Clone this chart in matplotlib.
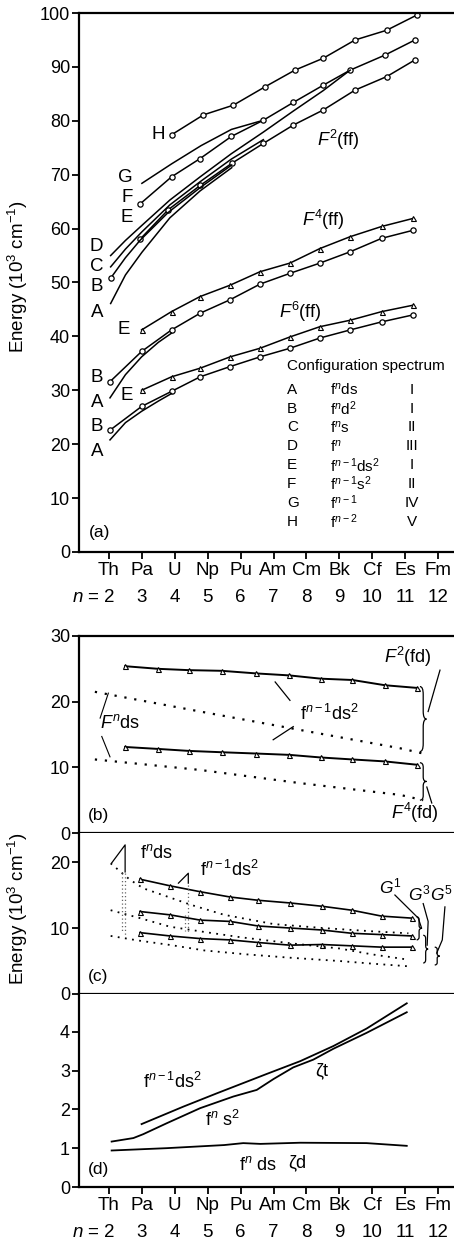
import numpy as np
import matplotlib
matplotlib.use('Agg')
import matplotlib.pyplot as plt
from matplotlib.path import Path
from matplotlib.patches import PathPatch

plt.rcParams['font.family'] = ['Liberation Sans', 'DejaVu Sans']
plt.rcParams['mathtext.fontset'] = 'custom'
plt.rcParams['mathtext.rm'] = 'Liberation Sans'
plt.rcParams['mathtext.it'] = 'Liberation Sans:italic'
plt.rcParams['mathtext.bf'] = 'Liberation Sans:bold'

# x axis: elements and n
elements = ['Th', 'Pa', 'U', 'Np', 'Pu', 'Am', 'Cm', 'Bk', 'Cf', 'Es', 'Fm']
n_vals = [2, 3, 4, 5, 6, 7, 8, 9, 10, 11, 12]

# ---- panel (a): F2(ff), F4(ff), F6(ff) ----
H_n = [3.9, 4.87, 5.78, 6.74, 7.65, 8.51, 9.48, 10.44, 11.35]
H_v = [77.4, 81.1, 82.9, 86.3, 89.4, 91.6, 95.0, 96.8, 99.6]
G_n = [3.0, 3.9, 4.8, 5.72, 6.69]
G_v = [68.4, 72.0, 75.4, 78.4, 80.1]
F_n = [2.95, 3.9, 4.77, 5.72, 6.69, 7.6, 8.51, 9.33, 10.39, 11.3]
F_v = [64.6, 69.6, 73.0, 77.1, 80.1, 83.4, 86.6, 89.4, 92.2, 95.0]
E_n = [2.94, 3.8, 4.77, 5.73, 6.69, 7.6, 8.51, 9.48, 10.44, 11.3]
E_v = [58.0, 63.5, 68.0, 72.1, 75.8, 79.2, 82.0, 85.7, 88.2, 91.3]
D_n = [2.05, 2.5, 3.0, 3.85, 4.77, 5.72, 6.69, 7.6, 8.51, 9.33]
D_v = [55.0, 57.8, 60.6, 65.3, 69.6, 73.9, 77.9, 81.8, 85.6, 89.4]
C_n = [2.05, 2.5, 3.0, 3.85, 4.77, 5.72, 6.69]
C_v = [52.9, 56.2, 59.4, 64.4, 68.7, 72.9, 76.5]
B_n = [2.05, 2.5, 2.94, 3.8, 4.77, 5.73]
B_v = [50.8, 54.6, 57.8, 63.0, 67.6, 71.8]
A_n = [2.05, 2.5, 3.0, 3.85, 4.77, 5.73]
A_v = [46.1, 51.4, 55.6, 62.0, 67.0, 71.3]

F4E_n = [2.99, 3.9, 4.77, 5.68, 6.59, 7.5, 8.41, 9.33, 10.29, 11.25]
F4E_v = [41.2, 44.6, 47.4, 49.5, 52.0, 53.6, 56.3, 58.5, 60.4, 61.9]
F4B_n = [2.03, 2.99, 3.9, 4.77, 5.68, 6.59, 7.5, 8.41, 9.33, 10.29, 11.25]
F4B_v = [31.6, 37.2, 41.2, 44.3, 46.8, 49.7, 51.7, 53.6, 55.7, 58.2, 59.7]
F4A_n = [2.03, 2.5, 2.99, 3.5, 3.9]
F4A_v = [28.6, 32.9, 36.2, 38.9, 40.6]

F6E_n = [2.99, 3.9, 4.77, 5.68, 6.59, 7.5, 8.41, 9.33, 10.29, 11.25]
F6E_v = [30.0, 32.5, 34.1, 36.2, 37.8, 39.9, 41.8, 43.0, 44.6, 45.8]
F6B_n = [2.03, 2.99, 3.9, 4.77, 5.68, 6.59, 7.5, 8.41, 9.33, 10.29, 11.25]
F6B_v = [22.6, 27.0, 29.8, 32.5, 34.4, 36.2, 37.8, 39.7, 41.2, 42.7, 44.0]
F6A_n = [2.03, 2.5, 2.99, 3.5, 3.9]
F6A_v = [20.8, 24.0, 26.1, 28.0, 29.4]

table_letters = ['A', 'B', 'C', 'D', 'E', 'F', 'G', 'H']
table_configs = ['f$^n$ds', 'f$^n$d$^2$', 'f$^n$s', 'f$^n$', 'f$^{n\u22121}$ds$^2$',
                 'f$^{n\u22121}$s$^2$', 'f$^{n\u22121}$', 'f$^{n\u22122}$']
table_spectra = ['I', 'I', 'II', 'III', 'I', 'II', 'IV', 'V']

# ---- panel (b): F2(fd), F4(fd) ----
b_n = [2.49, 3.5, 4.43, 5.42, 6.48, 7.48, 8.44, 9.40, 10.39, 11.35]
b_up = [25.4, 25.0, 24.8, 24.7, 24.3, 24.0, 23.5, 23.3, 22.5, 22.1]
b_lo = [13.1, 12.8, 12.5, 12.3, 12.1, 11.9, 11.5, 11.2, 10.9, 10.4]
bd_n = [1.57, 4.77, 7.8, 10.85, 11.55]
bd_up = [21.5, 18.5, 15.7, 12.9, 12.1]
bd_lo = [11.2, 9.6, 7.6, 5.8, 5.0]

# ---- panel (c): G1, G3, G5 ----
c_n = [2.94, 3.85, 4.77, 5.68, 6.54, 7.50, 8.47, 9.38, 10.29, 11.20]
G1_v = [17.4, 16.4, 15.5, 14.7, 14.2, 13.8, 13.3, 12.7, 11.8, 11.5]
G3_v = [12.5, 12.0, 11.2, 11.0, 10.3, 10.0, 9.7, 9.2, 9.0, 8.8]
G5_v = [9.3, 8.8, 8.4, 8.2, 7.8, 7.4, 7.5, 7.3, 7.1, 7.1]
cd1_n = [2.05, 2.64, 3.05, 3.75, 4.5, 5.5, 7.0, 8.5, 10.0, 11.1]
cd1_v = [19.8, 17.3, 16.0, 14.8, 13.5, 12.0, 10.6, 10.0, 9.5, 9.2]
cd2_n = [2.05, 2.94, 3.85, 4.9, 6.0, 7.5, 9.0, 10.0, 11.1]
cd2_v = [12.7, 11.5, 10.2, 9.4, 8.6, 7.7, 6.9, 6.0, 5.2]
cd3_n = [2.05, 2.9, 3.9, 4.9, 6.2, 7.5, 9.0, 10.0, 11.1]
cd3_v = [8.8, 8.1, 7.4, 6.6, 6.0, 5.5, 5.0, 4.6, 4.2]

# ---- panel (d): spin-orbit zeta ----
dt1_n = [2.99, 4.26, 5.27, 6.79, 7.81, 8.82, 9.83, 11.05]
dt1_v = [1.62, 2.07, 2.41, 2.91, 3.24, 3.63, 4.08, 4.73]
dt2_n = [2.08, 2.74, 3.04, 3.75, 4.77, 5.78, 6.49, 7.0, 7.6, 8.21, 8.82, 9.83, 11.05]
dt2_v = [1.17, 1.26, 1.36, 1.64, 2.03, 2.33, 2.50, 2.78, 3.08, 3.28, 3.56, 3.97, 4.50]
dd_n = [2.08, 3.75, 5.5, 6.08, 6.6, 7.81, 9.83, 11.05]
dd_v = [0.94, 1.00, 1.08, 1.13, 1.11, 1.14, 1.13, 1.06]

W, Hpx = 454, 1245
XL = (1.088, 12.486)


def box(top, bot):
    return [79 / W, 1 - bot / Hpx, 1 - 79 / W, (bot - top) / Hpx]


fig = plt.figure(figsize=(4.54, 12.45), dpi=100)
ax_a = fig.add_axes(box(13, 552))
ax_b = fig.add_axes(box(636, 833))
ax_c = fig.add_axes(box(833, 994))
ax_d = fig.add_axes(box(994, 1187))

for ax in (ax_a, ax_b, ax_c, ax_d):
    ax.set_xlim(*XL)
    ax.spines['right'].set_visible(False)
    for s in ax.spines.values():
        s.set_linewidth(1.6)
    ax.tick_params(direction='out', length=5, width=1.3, labelsize=13, pad=1.5)
    ax.set_xticks(n_vals)
ax_c.spines['top'].set_visible(False)
ax_d.spines['top'].set_visible(False)
for ax in (ax_b, ax_c):
    ax.set_xticklabels([])
ax_c.tick_params(axis='x', length=0)

ax_a.set_ylim(0, 100)
ax_a.set_yticks(range(0, 101, 10))
ax_b.set_ylim(0, 30)
ax_b.set_yticks([0, 10, 20, 30])
ax_c.set_ylim(0, 24.4)
ax_c.set_yticks([0, 10, 20])
ax_d.set_ylim(0, 4.97)
ax_d.set_yticks([0, 1, 2, 3, 4])

for ax in (ax_a, ax_d):
    ax.set_xticklabels(elements, fontsize=13.5)
    ax.tick_params(axis='x', pad=2)
    for n in n_vals:
        ax.annotate(str(n), (n, 0), xycoords=('data', 'axes fraction'),
                    xytext=(0, -33), textcoords='offset points',
                    ha='center', va='center', fontsize=13.5, annotation_clip=False)
    ax.annotate('$n$ = ', (2, 0), xycoords=('data', 'axes fraction'),
                xytext=(-6, -33), textcoords='offset points',
                ha='right', va='center', fontsize=13.5, annotation_clip=False)

ylab = 'Energy (10$^3$ cm$^{\u22121}$)'
ax_a.set_ylabel(ylab, fontsize=13.5)
ax_a.yaxis.set_label_coords(-0.131, 0.51)
ax_c.set_ylabel(ylab, fontsize=13.5)
ax_c.yaxis.set_label_coords(-0.131, 0.53)

lw = 1.1
circ = dict(marker='o', ms=3.8, mfc='white', mec='k', mew=0.9)
tri = dict(marker='^', ms=3.6, mfc='white', mec='k', mew=0.8)

# panel (a)
ax = ax_a
ax.plot(H_n, H_v, 'k-', lw=lw, **circ)
ax.plot(G_n, G_v, 'k-', lw=lw)
ax.plot(F_n, F_v, 'k-', lw=lw, **circ)
ax.plot(E_n, E_v, 'k-', lw=lw, **circ)
ax.plot(D_n, D_v, 'k-', lw=lw)
ax.plot(C_n, C_v, 'k-', lw=lw)
ax.plot(B_n, B_v, 'k-', lw=lw, markevery=[0], **circ)
ax.plot(A_n, A_v, 'k-', lw=lw)
ax.plot(F4E_n, F4E_v, 'k-', lw=lw, **tri)
ax.plot(F4B_n, F4B_v, 'k-', lw=lw, **circ)
ax.plot(F4A_n, F4A_v, 'k-', lw=lw)
ax.plot(F6E_n, F6E_v, 'k-', lw=lw, **tri)
ax.plot(F6B_n, F6B_v, 'k-', lw=lw, **circ)
ax.plot(F6A_n, F6A_v, 'k-', lw=lw)

lab = dict(fontsize=13.5, ha='right', va='center')
ax.text(3.70, 77.4, 'H', **lab)
ax.text(2.73, 69.4, 'G', **lab)
ax.text(2.73, 65.7, 'F', **lab)
ax.text(2.73, 62.0, 'E', **lab)
ax.text(1.82, 56.6, 'D', **lab)
ax.text(1.82, 52.9, 'C', **lab)
ax.text(1.82, 49.2, 'B', **lab)
ax.text(1.82, 44.5, 'A', **lab)
ax.text(2.64, 41.2, 'E', **lab)
ax.text(1.82, 32.3, 'B', **lab)
ax.text(1.82, 27.8, 'A', **lab)
ax.text(2.73, 29.1, 'E', **lab)
ax.text(1.82, 23.2, 'B', **lab)
ax.text(1.82, 18.6, 'A', **lab)
ax.text(8.96, 76.4, '$F^2$(ff)', fontsize=13, ha='center', va='center')
ax.text(8.50, 61.6, '$F^4$(ff)', fontsize=13, ha='center', va='center')
ax.text(7.80, 44.5, '$F^6$(ff)', fontsize=13, ha='center', va='center')
ax.text(1.70, 3.7, '(a)', fontsize=12.5, ha='center', va='center')

ax.text(7.41, 34.5, 'Configuration spectrum', fontsize=11, ha='left', va='center')
for i in range(len(table_letters)):
    yy = 30.1 - 3.5 * i
    ax.text(7.41, yy, table_letters[i], fontsize=11, ha='left', va='center')
    ax.text(8.72, yy, table_configs[i], fontsize=11, ha='left', va='center')
    ax.text(11.2, yy, table_spectra[i], fontsize=11, ha='center', va='center')


def brace(ax, x, y0, y1, w, lw=0.9):
    ym = (y0 + y1) / 2
    q = (y1 - y0) * 0.12
    verts = [(x, y1), (x + w / 2, y1), (x + w / 2, y1 - q), (x + w / 2, ym + q),
             (x + w / 2, ym), (x + w, ym), (x + w / 2, ym), (x + w / 2, ym - q),
             (x + w / 2, y0 + q), (x + w / 2, y0), (x, y0)]
    codes = [Path.MOVETO, Path.CURVE3, Path.CURVE3, Path.LINETO, Path.CURVE3,
             Path.CURVE3, Path.CURVE3, Path.CURVE3, Path.LINETO, Path.CURVE3,
             Path.CURVE3]
    ax.add_patch(PathPatch(Path(verts, codes), fill=False, lw=lw, ec='k',
                           clip_on=False))


# panel (b)
ax = ax_b
dots = (0, (1, 3.5))
ax.plot(b_n, b_up, 'k-', lw=1.4, **tri)
ax.plot(b_n, b_lo, 'k-', lw=1.4, **tri)
ax.plot(bd_n, bd_up, color='k', lw=1.6, ls=dots)
ax.plot(bd_n, bd_lo, color='k', lw=1.6, ls=dots)
brace(ax, 11.45, 12.4, 22.3, 0.2)
brace(ax, 11.45, 5.0, 10.7, 0.2)
ax.plot([12.06, 11.7], [24.8, 18.5], 'k-', lw=0.9, clip_on=False)
ax.plot([11.81, 11.66], [4.57, 7.0], 'k-', lw=0.9, clip_on=False)
ax.plot([7.05, 7.5], [23.0, 20.2], 'k-', lw=0.9)
ax.plot([6.99, 7.6], [14.2, 16.2], 'k-', lw=0.9)
ax.plot([1.98, 1.73], [21.3, 17.5], 'k-', lw=0.8)
ax.plot([1.78, 2.03], [14.7, 11.6], 'k-', lw=0.8)
ax.text(11.09, 26.8, '$F^2$(fd)', fontsize=13, ha='center', va='center')
ax.text(11.3, 3.0, '$F^4$(fd)', fontsize=13, ha='center', va='center')
ax.text(8.69, 18.1, 'f$^{n\u22121}$ds$^2$', fontsize=13, ha='center', va='center')
ax.text(2.33, 16.7, '$F^n$ds', fontsize=13, ha='center', va='center')
ax.text(1.67, 2.7, '(b)', fontsize=12.5, ha='center', va='center')

# panel (c)
ax = ax_c
cdots = (0, (1, 3))
ax.plot(c_n, G1_v, 'k-', lw=1.2, **tri)
ax.plot(c_n, G3_v, 'k-', lw=1.2, **tri)
ax.plot(c_n, G5_v, 'k-', lw=1.2, **tri)
ax.plot(cd1_n, cd1_v, color='k', lw=1.3, ls=cdots)
ax.plot(cd2_n, cd2_v, color='k', lw=1.3, ls=cdots)
ax.plot(cd3_n, cd3_v, color='k', lw=1.3, ls=cdots)
ax.plot([2.08, 2.49, 2.49], [19.85, 22.6, 18.5], 'k-', lw=0.9)
ax.plot([2.49, 2.49], [18.3, 8.6], color='0.4', lw=0.9, ls=(0, (1, 2)))
ax.plot([2.39, 2.39], [18.3, 9.2], color='0.4', lw=0.9, ls=(0, (1, 2)))
ax.plot([4.11, 4.41, 4.41], [16.8, 18.3, 16.8], 'k-', lw=0.9)
ax.plot([4.41, 4.41], [16.5, 9.2], color='0.4', lw=0.9, ls=(0, (1, 2)))
ax.plot([4.3, 4.3], [12.0, 9.5], color='0.4', lw=0.9, ls=(0, (1, 2)))
brace(ax, 11.35, 8.2, 11.7, 0.15)
brace(ax, 11.55, 4.7, 8.9, 0.15)
brace(ax, 11.9, 4.4, 7.1, 0.15)
ax.plot([10.69, 11.4, 11.5], [15.0, 11.5, 10.0], 'k-', lw=0.9, clip_on=False)
ax.plot([11.55, 11.7, 11.67], [13.7, 11.0, 7.4], 'k-', lw=0.9, clip_on=False)
ax.plot([12.21, 12.13, 11.96], [13.2, 8.2, 6.2], 'k-', lw=0.9, clip_on=False)
ax.text(10.2, 15.3, '$G^1$', fontsize=12.5, ha='left', va='baseline')
ax.text(11.09, 14.2, '$G^3$', fontsize=12.5, ha='left', va='baseline')
ax.text(11.76, 14.2, '$G^5$', fontsize=12.5, ha='left', va='baseline', clip_on=False)
ax.text(2.94, 21.4, 'f$^n$ds', fontsize=13, ha='left', va='center')
ax.text(4.77, 18.8, 'f$^{n\u22121}$ds$^2$', fontsize=13, ha='left', va='center')
ax.text(1.67, 2.6, '(c)', fontsize=12.5, ha='center', va='center')

# panel (d)
ax = ax_d
ax.plot(dt1_n, dt1_v, 'k-', lw=1.3)
ax.plot(dt2_n, dt2_v, 'k-', lw=1.3)
ax.plot(dd_n, dd_v, 'k-', lw=1.3)
ax.text(3.93, 2.7, 'f$^{n\u22121}$ds$^2$', fontsize=13, ha='center', va='center')
ax.text(5.45, 1.72, 'f$^n$ s$^2$', fontsize=13, ha='center', va='center')
ax.text(8.47, 2.98, '\u03b6t', fontsize=13, ha='center', va='center')
ax.text(6.54, 0.57, 'f$^n$ ds', fontsize=13, ha='center', va='center')
ax.text(7.73, 0.62, '\u03b6d', fontsize=13, ha='center', va='center')
ax.text(1.67, 0.44, '(d)', fontsize=12.5, ha='center', va='center')

fig.savefig('out.png', dpi=100)
